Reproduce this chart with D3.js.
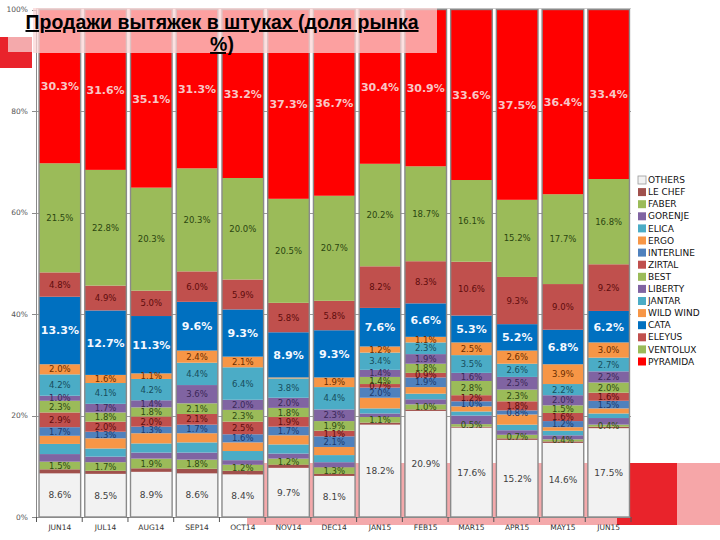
<!DOCTYPE html>
<html><head><meta charset="utf-8">
<script src="https://cdn.jsdelivr.net/npm/d3@7"></script>
<style>body{margin:0;background:#fff;}svg{display:block;}</style>
</head><body>
<script>
// ---- DATA ----
const months = ["JUN14","JUL14","AUG14","SEP14","OCT14","NOV14","DEC14","JAN15","FEB15","MAR15","APR15","MAY15","JUN15"];
const seriesNames = ["OTHERS","LE CHEF","FABER","GORENJE","ELICA","ERGO","INTERLINE","ZIRTAL","BEST","LIBERTY","JANTAR","WILD WIND","CATA","ELEYUS","VENTOLUX","PYRAMIDA"];
const others    = [8.6, 8.5, 8.9, 8.6, 8.4, 9.7, 8.1, 18.2, 20.9, 17.6, 15.2, 14.6, 17.5];
const leChef    = [0.8, 0.6, 0.7, 0.9, 0.7, 0.6, 0.4, 0.4, 0.3, 0.2, 0.3, 0.3, 0.3];
const faber     = [1.5, 1.7, 1.9, 1.8, 1.2, 1.2, 1.3, 1.1, 1.0, 0.5, 0.7, 0.4, 0.4];
const gorenje   = [1.5, 1.1, 1.2, 1.4, 0.9, 1.0, 1.0, 0.7, 1.0, 1.7, 0.9, 0.8, 1.3];
const elica     = [2.0, 1.6, 1.8, 2.0, 1.8, 1.8, 1.4, 1.0, 1.1, 0.8, 1.1, 0.9, 0.9];
const ergo      = [1.6, 2.0, 2.0, 1.8, 1.7, 1.8, 1.6, 2.1, 1.3, 1.0, 2.0, 0.7, 1.0];
const interline = [1.7, 1.3, 1.3, 1.7, 1.6, 1.7, 2.1, 2.0, 1.9, 1.0, 0.8, 1.2, 1.5];
const zirtal    = [2.9, 2.0, 2.0, 2.1, 2.5, 1.9, 1.1, 0.7, 0.9, 1.2, 1.8, 1.6, 1.6];
const best      = [2.3, 1.8, 1.8, 2.1, 2.3, 1.8, 1.9, 1.4, 1.8, 2.8, 2.3, 1.5, 2.0];
const liberty   = [1.0, 1.7, 1.4, 3.6, 2.0, 2.0, 2.3, 1.4, 1.9, 1.6, 2.5, 2.0, 2.2];
const jantar    = [4.2, 4.1, 4.2, 4.4, 6.4, 3.8, 4.4, 3.4, 2.3, 3.5, 2.6, 2.2, 2.7];
const wildWind  = [2.0, 1.6, 1.1, 2.4, 2.1, 0.2, 1.9, 1.2, 1.1, 2.5, 2.6, 3.9, 3.0];
const cata      = [13.3, 12.7, 11.3, 9.6, 9.3, 8.9, 9.3, 7.6, 6.6, 5.3, 5.2, 6.8, 6.2];
const eleyus    = [4.8, 4.9, 5.0, 6.0, 5.9, 5.8, 5.8, 8.2, 8.3, 10.6, 9.3, 9.0, 9.2];
const ventolux  = [21.5, 22.8, 20.3, 20.3, 20.0, 20.5, 20.7, 20.2, 18.7, 16.1, 15.2, 17.7, 16.8];
const pyramida  = [30.3, 31.6, 35.1, 31.3, 33.2, 37.3, 36.7, 30.4, 30.9, 33.6, 37.5, 36.4, 33.4];
const yTicks = [0, 20, 40, 60, 80, 100];
const yTickLabels = ["0%", "20%", "40%", "60%", "80%", "100%"];
const titleLines = ["Продажи вытяжек в штуках (доля рынка", "%)"];

const seriesValues = [others, leChef, faber, gorenje, elica, ergo, interline, zirtal, best, liberty, jantar, wildWind, cata, eleyus, ventolux, pyramida];

// ---- STYLE ----
const fills = {"OTHERS":"#f2f2f2","LE CHEF":"#a0504c","FABER":"#9bbb59","GORENJE":"#8064a2","ELICA":"#4bacc6","ERGO":"#f79646","INTERLINE":"#4f81bd","ZIRTAL":"#c0504d","BEST":"#9bbb59","LIBERTY":"#8064a2","JANTAR":"#4bacc6","WILD WIND":"#f79646","CATA":"#0070c0","ELEYUS":"#c0504d","VENTOLUX":"#9bbb59","PYRAMIDA":"#ff0000"};
const labelColors = {"OTHERS":"#404040","FABER":"#2f4a12","INTERLINE":"#1c3a6e","ZIRTAL":"#5e0c0c","BEST":"#2f4a12","LIBERTY":"#3a2758","JANTAR":"#174c5c","WILD WIND":"#6a2d00","CATA":"#f4f8ff","ELEYUS":"#5e0c0c","VENTOLUX":"#2b4610","PYRAMIDA":"#f8c6c6"};
const boldSeries = new Set(["CATA","PYRAMIDA"]);

const W = 720, H = 540;
const svg = d3.select("body").append("svg").attr("width", W).attr("height", H);

// background decorations
svg.append("rect").attr("x", 247).attr("y", 463).attr("width", 370).attr("height", 62).attr("fill", "#f4a9ab");
svg.append("rect").attr("x", 617).attr("y", 463).attr("width", 60).attr("height", 62).attr("fill", "#e9232b");
svg.append("rect").attr("x", 677).attr("y", 463).attr("width", 43).attr("height", 62).attr("fill", "#f6a6a8");
svg.append("rect").attr("x", 0).attr("y", 37).attr("width", 32).attr("height", 31).attr("fill", "#e9232b");
svg.append("rect").attr("x", 8).attr("y", 37).attr("width", 24).attr("height", 15).attr("fill", "#f4a9ab");

const rows = months.map((m, i) => {
  const r = {month: m};
  seriesNames.forEach((s, k) => r[s] = seriesValues[k][i] / 100);
  return r;
});

const x = d3.scaleBand().domain(months).range([37.2, 631.3]).paddingInner(0.09).paddingOuter(0.04);
const y = d3.scaleLinear().domain([0, 1]).range([517, 9.5]);

// plot white area above pink strip
svg.append("rect").attr("x", 36).attr("y", 8).attr("width", 595).attr("height", 455).attr("fill", "#ffffff");
svg.append("line").attr("x1", 36).attr("x2", 631).attr("y1", 8.5).attr("y2", 8.5).attr("stroke", "#d0d0d0");

// gridlines
svg.append("g").selectAll("line").data(yTicks.slice(1, 5)).join("line")
  .attr("x1", 36).attr("x2", 631)
  .attr("y1", d => Math.round(y(d / 100)) + 0.5).attr("y2", d => Math.round(y(d / 100)) + 0.5)
  .attr("stroke", "#9a9a9a").attr("stroke-width", 1);

const stack = d3.stack().keys(seriesNames)(rows);

const layers = svg.append("g").selectAll("g").data(stack).join("g").attr("fill", d => fills[d.key]);
layers.selectAll("rect").data(d => d.map(p => ({p, key: d.key}))).join("rect")
  .attr("x", d => x(d.p.data.month))
  .attr("width", x.bandwidth())
  .attr("y", d => y(d.p[1]))
  .attr("height", d => y(d.p[0]) - y(d.p[1]));

// bar outlines
svg.append("g").selectAll("rect").data(months).join("rect")
  .attr("x", d => x(d)).attr("width", x.bandwidth())
  .attr("y", y(1)).attr("height", y(0) - y(1))
  .attr("fill", "none").attr("stroke", "#8a8a8a").attr("stroke-width", 1.4);

// labels
const labelG = svg.append("g").attr("font-family", "DejaVu Sans").attr("text-anchor", "middle");
stack.forEach(layer => {
  if (!labelColors[layer.key]) return;
  layer.forEach(p => {
    const v = p[1] - p[0];
    if (v < 0.003) return;
    const b = boldSeries.has(layer.key);
    labelG.append("text")
      .attr("x", x(p.data.month) + x.bandwidth() / 2)
      .attr("y", (y(p[0]) + y(p[1])) / 2)
      .attr("dy", "0.36em")
      .attr("font-size", b ? 11 : (layer.key === "OTHERS" ? 9 : 8.5))
      .attr("font-weight", b ? "bold" : "normal")
      .attr("fill", labelColors[layer.key])
      .text(d3.format(".1f")(v * 100) + "%");
  });
});

// y axis
svg.append("line").attr("x1", 36.5).attr("x2", 36.5).attr("y1", y(1)).attr("y2", y(0)).attr("stroke", "#8a8a8a");
const yt = svg.append("g").selectAll("g").data(yTicks).join("g");
yt.append("line").attr("x1", 32).attr("x2", 36.5)
  .attr("y1", d => Math.round(y(d / 100)) + 0.5).attr("y2", d => Math.round(y(d / 100)) + 0.5).attr("stroke", "#8a8a8a");
yt.append("text").attr("x", 28).attr("y", d => y(d / 100)).attr("dy", "0.35em")
  .attr("text-anchor", "end").attr("font-family", "DejaVu Sans").attr("font-size", 7.5).attr("fill", "#555")
  .text((d, i) => yTickLabels[i]);

// x axis
svg.append("line").attr("x1", 36).attr("x2", 631).attr("y1", 517.5).attr("y2", 517.5).attr("stroke", "#8a8a8a");
const step = x.step();
svg.append("g").selectAll("line").data(d3.range(months.length + 1)).join("line")
  .attr("x1", i => 36.5 + i * (594.5 / months.length)).attr("x2", i => 36.5 + i * (594.5 / months.length))
  .attr("y1", 517).attr("y2", 522).attr("stroke", "#555");
svg.append("g").selectAll("text").data(months).join("text")
  .attr("x", d => x(d) + x.bandwidth() / 2).attr("y", 530)
  .attr("text-anchor", "middle").attr("font-family", "DejaVu Sans").attr("font-size", 7.5).attr("fill", "#333")
  .text(d => d);

// legend
const legend = svg.append("g").attr("transform", "translate(638,180)");
const li = legend.selectAll("g").data(seriesNames).join("g").attr("transform", (d, i) => `translate(0,${i * 12.1})`);
li.append("rect").attr("x", 0).attr("y", -4).attr("width", 8).attr("height", 8)
  .attr("fill", d => fills[d]).attr("stroke", d => d === "OTHERS" ? "#999" : "none").attr("stroke-width", 0.8);
li.append("text").attr("x", 10).attr("dy", "0.35em").attr("font-family", "DejaVu Sans").attr("font-size", 9)
  .attr("fill", "#111").text(d => d);

// title box
svg.append("rect").attr("x", 33).attr("y", 8).attr("width", 404).attr("height", 45)
  .attr("fill", "#fbd5d5").attr("opacity", 0.75);
const tg = svg.append("g").attr("font-family", "Liberation Sans, Arial, sans-serif").attr("font-weight", "bold")
  .attr("font-size", 19.5).attr("text-anchor", "middle").attr("fill", "#000").attr("text-decoration", "underline");
tg.append("text").attr("x", 222).attr("y", 29).text(titleLines[0]);
tg.append("text").attr("x", 222).attr("y", 51).text(titleLines[1]);
</script>
</body></html>
